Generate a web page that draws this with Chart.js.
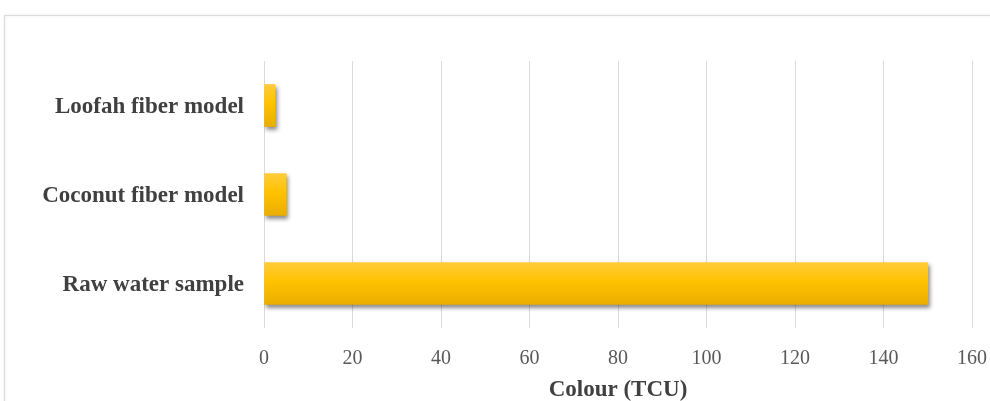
<!DOCTYPE html>
<html>
<head>
<meta charset="utf-8">
<script src="https://cdn.jsdelivr.net/npm/chart.js@4/dist/chart.umd.min.js"></script>
<style>
  html, body { margin: 0; padding: 0; background: #ffffff; }
  #wrap { width: 990px; height: 401px; position: relative; }
</style>
</head>
<body>
<div id="wrap"><canvas id="c" width="990" height="401"></canvas></div>
<script>
// Colour of treated water per filter model, in true colour units
const categories = ['Loofah fiber model', 'Coconut fiber model', 'Raw water sample'];
const colourTCU = [2.5, 5, 150];
const axisTitle = 'Colour (TCU)';
const axisMin = 0;
const axisMax = 160;
const axisStep = 20;

// Outer frame around the chart area
const framePlugin = {
  id: 'frame',
  beforeDraw(chart) {
    const ctx = chart.ctx;
    ctx.save();
    ctx.shadowColor = 'rgba(0,0,0,0.12)';
    ctx.shadowBlur = 3;
    ctx.strokeStyle = '#dcdcdc';
    ctx.lineWidth = 1;
    ctx.strokeRect(4.5, 15.5, 1100, 500);
    ctx.restore();
  }
};

// Soft drop shadow under the bars
const shadowPlugin = {
  id: 'barShadow',
  beforeDatasetsDraw(chart) {
    const ctx = chart.ctx;
    ctx.save();
    ctx.shadowColor = 'rgba(0,0,0,0.45)';
    ctx.shadowBlur = 4;
    ctx.shadowOffsetX = 2;
    ctx.shadowOffsetY = 3;
  },
  afterDatasetsDraw(chart) {
    chart.ctx.restore();
  }
};

function barFill(context) {
  const chart = context.chart;
  const yScale = chart.scales.y;
  if (!yScale || !chart.chartArea) return '#FFC000';
  const yc = yScale.getPixelForValue(context.dataIndex);
  const half = 21;
  const g = chart.ctx.createLinearGradient(0, yc - half, 0, yc + half);
  g.addColorStop(0, '#FFCC3A');
  g.addColorStop(0.45, '#FFC200');
  g.addColorStop(1, '#E9AE00');
  return g;
}

new Chart(document.getElementById('c'), {
  type: 'bar',
  data: {
    labels: categories,
    datasets: [{
      data: colourTCU,
      backgroundColor: barFill,
      borderWidth: 0,
      barThickness: 42
    }]
  },
  options: {
    indexAxis: 'y',
    responsive: false,
    animation: false,
    devicePixelRatio: 1,
    layout: { padding: { top: 61, right: 18, bottom: 0, left: 0 } },
    plugins: {
      legend: { display: false },
      tooltip: { enabled: false }
    },
    scales: {
      x: {
        min: axisMin,
        max: axisMax,
        ticks: {
          stepSize: axisStep,
          color: '#595959',
          padding: 19,
          font: { family: '"Liberation Serif", "Times New Roman", serif', size: 20 }
        },
        grid: { color: '#d9d9d9', lineWidth: 1, drawTicks: false },
        border: { display: false },
        title: {
          display: true,
          text: axisTitle,
          color: '#404040',
          padding: { top: 5, bottom: -3 },
          font: { family: '"Liberation Serif", "Times New Roman", serif', size: 23, weight: 'bold' }
        },
        afterFit(scale) {
          scale.height = 73;
          scale.paddingLeft = 0;
          scale.paddingRight = 0;
        }
      },
      y: {
        ticks: {
          color: '#404040',
          padding: 20,
          labelOffset: 2,
          font: { family: '"Liberation Serif", "Times New Roman", serif', size: 23, weight: 'bold' }
        },
        grid: { display: false, drawTicks: false },
        border: { display: false },
        afterFit(scale) {
          scale.width = 264;
          scale.paddingTop = 0;
          scale.paddingBottom = 0;
        }
      }
    }
  },
  plugins: [framePlugin, shadowPlugin]
});
</script>
</body>
</html>
